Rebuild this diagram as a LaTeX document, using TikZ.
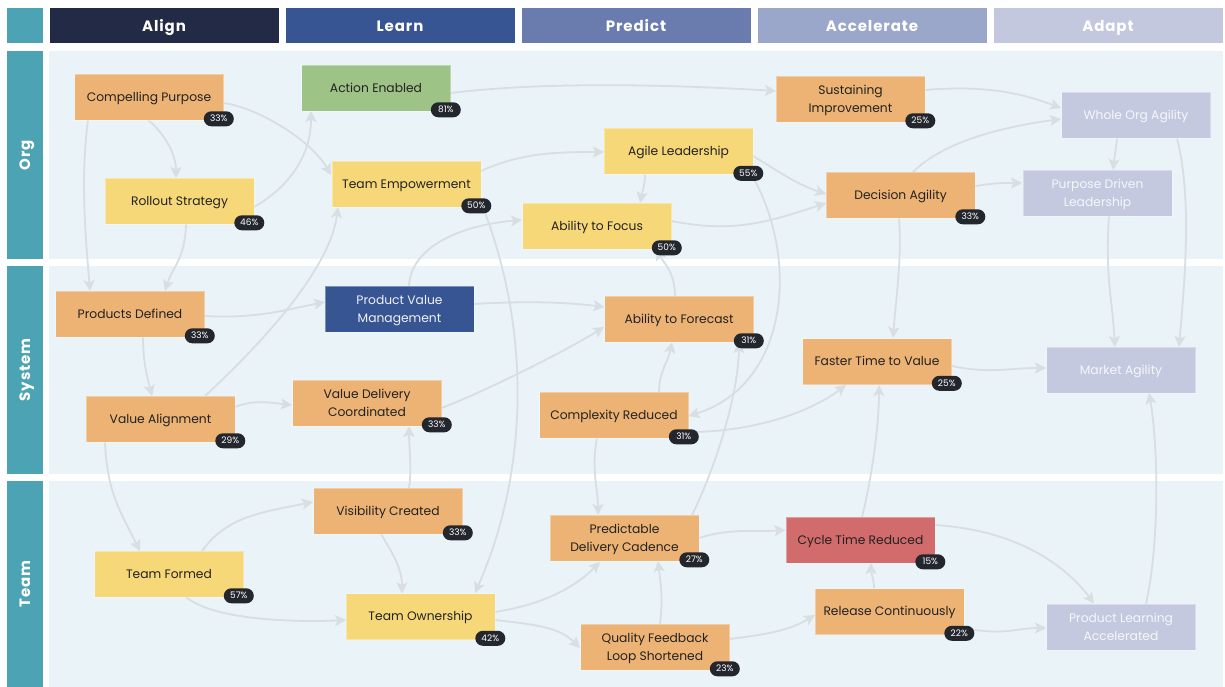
\documentclass[tikz,border=0pt]{standalone}
\usepackage{fontspec}
\setmainfont{Poppins}
\usetikzlibrary{arrows.meta,calc}
\definecolor{teal}{HTML}{4BA3B4}
\definecolor{hA}{HTML}{232A45}
\definecolor{hL}{HTML}{375593}
\definecolor{hP}{HTML}{6A7BAE}
\definecolor{hC}{HTML}{9AA7CA}
\definecolor{hD}{HTML}{C4C8DF}
\definecolor{panel}{HTML}{EAF3F7}
\definecolor{orng}{HTML}{EDB374}
\definecolor{yell}{HTML}{F7D878}
\definecolor{grn}{HTML}{9DC386}
\definecolor{blu}{HTML}{375593}
\definecolor{redc}{HTML}{D26B6B}
\definecolor{lav}{HTML}{C5C9DF}
\definecolor{edgec}{HTML}{D8DEE1}
\definecolor{badgec}{HTML}{23272D}
\definecolor{ink}{HTML}{222222}
\pgfdeclarelayer{bg}
\pgfdeclarelayer{edges}
\pgfsetlayers{bg,edges,main}
\begin{document}
\begin{tikzpicture}[x=1pt,y=-1pt,
  hdr/.style={rectangle, minimum width=229pt, minimum height=35.5pt, inner sep=0pt, text=white,
    text height=10.6pt, text depth=0pt,
    font=\fontsize{15}{17}\selectfont\bfseries\addfontfeatures{LetterSpace=6}},
  rowlab/.style={rectangle, fill=teal, minimum width=35.5pt, inner sep=0pt},
  rowtxt/.style={rotate=90, text=white, text height=10.6pt, text depth=0pt,
    font=\fontsize{15}{17}\selectfont\bfseries\addfontfeatures{LetterSpace=6}},
  box/.style={rectangle, minimum width=149pt, minimum height=46pt, inner sep=0pt, align=center,
    text=ink, font=\fontsize{12.3}{18}\selectfont, text height=8.6pt, text depth=0pt,
    draw=white, draw opacity=0.35, line width=0.6pt},
  two/.style={text height=26.6pt, text depth=0pt},
  obox/.style={box, fill=orng},
  ybox/.style={box, fill=yell},
  gbox/.style={box, fill=grn},
  bbox/.style={box, fill=blu, text=white!92!blu},
  rbox/.style={box, fill=redc},
  lbox/.style={box, fill=lav, text=white!85!lav},
  badge/.style={rectangle, rounded corners=7.5pt, fill=badgec, text=white, minimum width=30pt,
    minimum height=15pt, inner sep=0pt, text height=6.2pt, text depth=0pt,
    font=\fontsize{9}{10}\selectfont},
  edge/.style={draw=edgec, line width=1.8pt, -{Stealth[length=11pt,width=11pt,inset=2.5pt]}}
]
\useasboundingbox (0,0) rectangle (1225,687);
\begin{pgfonlayer}{bg}
\fill[white] (0,0) rectangle (1225,687);
\fill[panel] (49,51) rectangle (1222.5,259);
\fill[panel] (49,266) rectangle (1222.5,473.5);
\fill[panel] (49,481) rectangle (1222.5,687);
\end{pgfonlayer}
% header
\node[rectangle, fill=teal, minimum width=35.5pt, minimum height=35.5pt] (corner) at (24.75,25.75) {};
\node[hdr, fill=hA] (hAlign) at (164,25.75) {Align};
\node[hdr, fill=hL] (hLearn) at (400,25.75) {Learn};
\node[hdr, fill=hP] (hPredict) at (636,25.75) {Predict};
\node[hdr, fill=hC] (hAcc) at (872,25.75) {Accelerate};
\node[hdr, fill=hD] (hAdapt) at (1108,25.75) {Adapt};
% row labels
\node[rowlab, minimum height=208pt] (rOrg) at (24.75,155) {};
\node[rowlab, minimum height=207.5pt] (rSys) at (24.75,369.75) {};
\node[rowlab, minimum height=206pt] (rTeam) at (24.75,584) {};
\node[rowtxt] (tOrg) at (rOrg) {Org};
\node[rowtxt] (tSys) at (rSys) {System};
\node[rowtxt] (tTeam) at (rTeam) {Team};
% Org nodes
\node[obox] (cp) at (149,97) {Compelling Purpose};
\node[gbox] (ae) at (376,88) {Action Enabled};
\node[ybox] (rs) at (179.5,201) {Rollout Strategy};
\node[ybox] (te) at (406.5,184) {Team Empowerment};
\node[ybox] (al) at (678.5,151.5) {Agile Leadership};
\node[ybox] (af) at (597,226) {Ability to Focus};
\node[obox, two] (si) at (850.5,99) {Sustaining\\Improvement};
\node[obox] (da) at (900.5,195) {Decision Agility};
\node[lbox] (wo) at (1136,115) {Whole Org Agility};
\node[lbox, two] (pd) at (1097.5,193) {Purpose Driven\\Leadership};
% System nodes
\node[obox] (pdf) at (130,314) {Products Defined};
\node[bbox, two] (pvm) at (399.5,309) {Product Value\\Management};
\node[obox] (afc) at (679,319) {Ability to Forecast};
\node[obox] (va) at (160.5,419) {Value Alignment};
\node[obox, two] (vdc) at (367,403) {Value Delivery\\Coordinated};
\node[obox] (cr) at (614,415) {Complexity Reduced};
\node[obox] (ft) at (877,361.5) {Faster Time to Value};
\node[lbox] (ma) at (1121,370) {Market Agility};
% Team nodes
\node[obox] (vc) at (388,511) {Visibility Created};
\node[ybox] (tf) at (169,574) {Team Formed};
\node[obox, two] (pdc) at (624.5,538) {Predictable\\Delivery Cadence};
\node[ybox] (to) at (420.5,616.5) {Team Ownership};
\node[rbox] (ctr) at (860.5,540) {Cycle Time Reduced};
\node[obox, two] (qf) at (655,647) {Quality Feedback\\Loop Shortened};
\node[obox] (rc) at (889.5,611.5) {Release Continuously};
\node[lbox, two] (pla) at (1121,627) {Product Learning\\Accelerated};
% badges
\foreach \n/\v in {cp/33,ae/81,rs/46,te/50,al/55,af/50,si/25,da/33,pdf/33,afc/31,va/29,vdc/33,cr/31,ft/25,vc/33,tf/57,pdc/27,to/42,ctr/15,qf/23,rc/22}
  \node[badge] (b\n) at ([xshift=-5pt,yshift=1.5pt]\n.south east) {\v\%};
% edges
\begin{pgfonlayer}{edges}
\draw[edge] ($(cp)+(-1,23)$) .. controls +(15,12) and +(0,-25) .. ($(rs)+(-3.5,-23)$);
\draw[edge] ($(cp)+(74.5,6)$) .. controls +(35,5) and +(-20,-35) .. ($(te)+(-75.5,-9)$);
\draw[edge] ($(cp)+(-61,23)$) .. controls +(-8,60) and +(-4,-50) .. ($(pdf)+(-40,-23)$);
\draw[edge] ($(rs)+(74.5,6)$) .. controls +(35,-20) and +(0,45) .. ($(ae)+(-65,23)$);
\draw[edge] ($(rs)+(6.5,23)$) .. controls +(-1,35) and +(8,-25) .. ($(pdf)+(35,-23)$);
\draw[edge] ($(ae)+(74.5,5)$) .. controls +(100,-12) and +(-100,-6) .. ($(si)+(-74.5,-8)$);
\draw[edge] ($(te)+(74.5,-13)$) .. controls +(40,-18) and +(-50,0) .. ($(al)+(-74.5,0.5)$);
\draw[edge] ($(te)+(76,22)$) .. controls +(52,134) and +(50,-113) .. ($(to)+(54.5,-23.5)$);
\draw[edge] ($(al)+(-33.5,23)$) .. controls +(0,10) and +(2,-10) .. ($(af)+(43,-23)$);
\draw[edge] ($(al)+(74.5,4.5)$) .. controls +(25,15) and +(-30,-10) .. ($(da)+(-74.5,-1)$);
\draw[edge] ($(al)+(73.5,24)$) .. controls +(48,84) and +(100,-31) .. ($(cr)+(74.5,1)$);
\draw[edge] ($(af)+(74.5,-5)$) .. controls +(60,12) and +(-60,20) .. ($(da)+(-74.5,8)$);
\draw[edge] ($(si)+(74.5,-9)$) .. controls +(60,-5) and +(-40,-15) .. ($(wo)+(-75,-7)$);
\draw[edge] ($(da)+(12.5,-23)$) .. controls +(30,-30) and +(-60,8) .. ($(wo)+(-75,4)$);
\draw[edge] ($(da)+(74.5,-9)$) .. controls +(20,-3) and +(-20,0) .. ($(pd)+(-75.5,-10)$);
\draw[edge] ($(da)+(-1.5,23)$) .. controls +(3,40) and +(3,-40) .. ($(ft)+(16,-23.5)$);
\draw[edge] ($(wo)+(-19,23)$) .. controls +(-1,10) and +(1,-10) .. ($(pd)+(15.5,-23)$);
\draw[edge] ($(wo)+(41,23)$) .. controls +(15,60) and +(6,-70) .. ($(ma)+(58,-23)$);
\draw[edge] ($(pd)+(11.5,23)$) .. controls +(-4,60) and +(-3,-50) .. ($(ma)+(-6,-23)$);
\draw[edge] ($(va)+(44.5,-23)$) .. controls +(55,-51) and +(-8,63) .. ($(te)+(-68.5,23)$);
\draw[edge] ($(pvm)+(9.5,-23)$) .. controls +(2,-40) and +(-60,5) .. ($(af)+(-75,-6)$);
\draw[edge] ($(afc)+(-4,-23)$) .. controls +(0,-25) and +(5,12) .. ($(af)+(60,23)$);
\draw[edge] ($(pdf)+(74.5,2)$) .. controls +(50,3) and +(-40,8) .. ($(pvm)+(-74.5,-7)$);
\draw[edge] ($(pdf)+(13,23)$) .. controls +(0,25) and +(-5,-20) .. ($(va)+(-8.5,-23)$);
\draw[edge] ($(pvm)+(74.5,-5)$) .. controls +(50,-3) and +(-40,-5) .. ($(afc)+(-74.5,-12)$);
\draw[edge] ($(va)+(74.5,-12)$) .. controls +(20,-8) and +(-20,-2) .. ($(vdc)+(-75,2)$);
\draw[edge] ($(vdc)+(74.5,5)$) .. controls +(40,-15) and +(-40,25) .. ($(afc)+(-75,8)$);
\draw[edge] ($(cr)+(45,-23)$) .. controls +(0,-20) and +(-4,20) .. ($(afc)+(-7,23)$);
\draw[edge] ($(cr)+(74.5,17)$) .. controls +(60,0) and +(-40,30) .. ($(ft)+(-31,23.5)$);
\draw[edge] ($(cr)+(-17,23)$) .. controls +(-6,30) and +(0,-25) .. ($(pdc)+(-26.5,-23)$);
\draw[edge] ($(ft)+(74.5,4.5)$) .. controls +(40,8) and +(-40,0) .. ($(ma)+(-75,-2)$);
\draw[edge] ($(va)+(-55.5,23)$) .. controls +(2,50) and +(-20,-40) .. ($(tf)+(-29,-23)$);
\draw[edge] ($(vc)+(21,-23)$) .. controls +(3,-20) and +(0,20) .. ($(vdc)+(42,23)$);
\draw[edge] ($(pdc)+(67.5,-23)$) .. controls +(20,-40) and +(-1,58) .. ($(afc)+(60,23)$);
\draw[edge] ($(ctr)+(1.5,-23)$) .. controls +(10,-40) and +(0,40) .. ($(ft)+(2,23.5)$);
\draw[edge] ($(pla)+(25,-23)$) .. controls +(14,-64) and +(9,52) .. ($(ma)+(28,23)$);
\draw[edge] ($(tf)+(33,-23)$) .. controls +(25,-35) and +(-50,10) .. ($(vc)+(-75,-9)$);
\draw[edge] ($(tf)+(17,23)$) .. controls +(30,25) and +(-40,2) .. ($(to)+(-74.5,3.5)$);
\draw[edge] ($(vc)+(-7,23)$) .. controls +(12,20) and +(0,-25) .. ($(to)+(-18.5,-23)$);
\draw[edge] ($(to)+(74.5,-4.5)$) .. controls +(50,-8) and +(-25,25) .. ($(pdc)+(-24.5,24)$);
\draw[edge] ($(to)+(74.5,3.5)$) .. controls +(45,5) and +(-20,-20) .. ($(qf)+(-75,1)$);
\draw[edge] ($(qf)+(5,-23)$) .. controls +(3,-25) and +(3,25) .. ($(pdc)+(33.5,23)$);
\draw[edge] ($(pdc)+(74.5,0)$) .. controls +(30,-10) and +(-30,2) .. ($(ctr)+(-75,-10)$);
\draw[edge] ($(qf)+(74.5,-8)$) .. controls +(40,-5) and +(-25,15) .. ($(rc)+(-74.5,3.5)$);
\draw[edge] ($(rc)+(-15.5,-23)$) .. controls +(0,-8) and +(0,8) .. ($(ctr)+(10.5,23)$);
\draw[edge] ($(ctr)+(74.5,-15)$) .. controls +(80,5) and +(-30,-40) .. ($(pla)+(-27,-23.5)$);
\draw[edge] ($(rc)+(74.5,16.5)$) .. controls +(40,8) and +(-30,0) .. ($(pla)+(-75,1)$);
\end{pgfonlayer}
\end{tikzpicture}
\end{document}
